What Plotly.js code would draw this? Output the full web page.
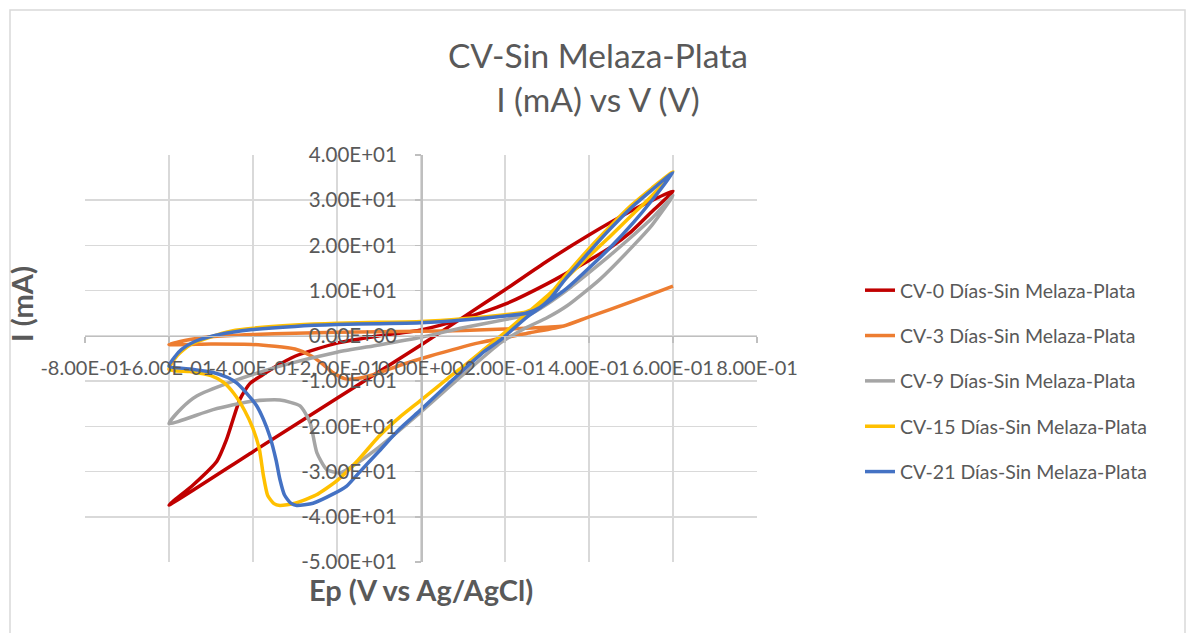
<!DOCTYPE html>
<html>
<head>
<meta charset="utf-8">
<script src="https://cdn.plot.ly/plotly-3.0.1.min.js"></script>
<style>
  html, body { margin: 0; padding: 0; background: #ffffff; }
  #chart { width: 1191px; height: 633px; }
</style>
</head>
<body>
<div id="chart"></div>
<script>
// Cyclic voltammetry loops: potential (V vs Ag/AgCl) and current (mA)
const seriesNames = [
  "CV-0 Días-Sin Melaza-Plata",
  "CV-3 Días-Sin Melaza-Plata",
  "CV-9 Días-Sin Melaza-Plata",
  "CV-15 Días-Sin Melaza-Plata",
  "CV-21 Días-Sin Melaza-Plata"
];
const seriesColors = ["#C00000", "#ED7D31", "#A5A5A5", "#FFC000", "#4472C4"];

// CV-0 días
const ep0 = [-0.6, -0.4, -0.2, 0.0, 0.1, 0.2, 0.3, 0.4, 0.5, 0.56, 0.6,
             0.55, 0.5, 0.45, 0.4, 0.3, 0.2, 0.1, 0.0, -0.1, -0.2, -0.3, -0.35, -0.38, -0.407, -0.431, -0.463, -0.486, -0.542, -0.6];
const i0  = [-37.4, -25.6, -13.8, -2.0, 4.1, 10.2, 16.5, 22.3, 27.6, 30.4, 32.0,
             27.5, 23.0, 19.5, 16.7, 11.5, 7.0, 3.8, 1.3, 0.0, -1.6, -4.5, -7.0, -8.8, -10.5, -14.0, -22.9, -27.7, -32.9, -37.4];

// CV-3 días
const ep3 = [-0.6, -0.55, -0.5, -0.4, -0.3, -0.2, -0.1, 0.0, 0.1, 0.2, 0.3, 0.34, 0.4, 0.5, 0.6,
             0.5, 0.4, 0.34, 0.26, 0.14, 0.02, -0.05, -0.1, -0.15, -0.18, -0.21, -0.24, -0.26, -0.3, -0.4, -0.5, -0.6];
const i3  = [-1.9, -0.8, -0.2, 0.3, 0.6, 0.8, 0.9, 1.0, 1.2, 1.5, 1.9, 2.2, 4.2, 7.5, 11.0,
             7.5, 4.2, 2.2, 0.7, -1.5, -4.5, -6.5, -8.2, -9.4, -9.5, -8.1, -5.8, -4.5, -2.9, -1.9, -1.8, -1.9];

// CV-9 días
const ep9 = [-0.6, -0.57, -0.534, -0.455, -0.336, -0.2, -0.1, 0.0, 0.1, 0.2, 0.26, 0.3, 0.35, 0.4, 0.45, 0.5, 0.55, 0.6,
             0.55, 0.505, 0.426, 0.347, 0.3, 0.25, 0.19, 0.1, 0.0, -0.1, -0.15, -0.193, -0.225, -0.248, -0.264, -0.288, -0.336, -0.4, -0.495, -0.6];
const i9  = [-19.4, -16.0, -13.3, -10.3, -6.7, -3.6, -2.0, -0.3, 1.8, 3.6, 4.8, 7.0, 10.3, 14.0, 17.8, 21.8, 26.0, 31.0,
             24.5, 19.9, 12.5, 6.6, 4.0, 1.8, -1.5, -8.6, -16.8, -24.6, -28.0, -30.3, -29.5, -25.8, -19.2, -15.5, -14.2, -14.4, -16.3, -19.4];

// CV-15 días
const ep15 = [-0.6, -0.58, -0.55, -0.5, -0.45, -0.4, -0.3, -0.2, -0.1, 0.0, 0.1, 0.2, 0.25, 0.28, 0.31, 0.339, 0.4, 0.45, 0.5, 0.55, 0.6,
              0.55, 0.5, 0.45, 0.4, 0.35, 0.3, 0.25, 0.2, 0.15, 0.1, 0.061, 0.0, -0.05, -0.1, -0.15, -0.2, -0.25, -0.3, -0.336, -0.35, -0.365, -0.375, -0.385, -0.4, -0.42, -0.445, -0.47, -0.5, -0.55, -0.6];
const i15  = [-7.4, -4.3, -2.0, -0.2, 1.1, 1.7, 2.4, 2.8, 3.0, 3.2, 3.8, 4.7, 5.3, 6.8, 9.5, 12.8, 19.3, 24.2, 28.8, 32.7, 36.3,
              31.0, 26.5, 22.0, 17.6, 13.2, 8.8, 4.8, 0.8, -3.0, -6.8, -9.6, -14.2, -17.9, -22.2, -27.5, -32.0, -35.2, -37.0, -37.5, -37.1, -35.3, -31.0, -25.0, -20.5, -16.5, -12.8, -10.3, -8.8, -7.9, -7.4];

// CV-21 días
const ep21 = [-0.6, -0.585, -0.57, -0.54, -0.5, -0.45, -0.4, -0.3, -0.2, -0.1, 0.0, 0.1, 0.2, 0.25, 0.283, 0.31, 0.339, 0.4, 0.45, 0.5, 0.55, 0.6,
              0.55, 0.505, 0.45, 0.4, 0.347, 0.3, 0.25, 0.188, 0.15, 0.077, 0.0, -0.05, -0.1, -0.15, -0.177, -0.21, -0.257, -0.296, -0.31, -0.325, -0.336, -0.345, -0.36, -0.375, -0.391, -0.415, -0.439, -0.46, -0.495, -0.55, -0.6];
const i21  = [-6.7, -4.5, -3.0, -1.3, -0.1, 0.8, 1.4, 2.1, 2.5, 2.7, 2.9, 3.5, 4.4, 5.0, 6.3, 8.5, 12.0, 18.5, 23.6, 28.3, 32.3, 36.1,
              30.0, 25.0, 19.5, 15.0, 10.5, 7.3, 4.0, -1.0, -3.5, -9.6, -16.3, -20.5, -25.5, -30.5, -33.2, -35.0, -37.0, -37.5, -37.0, -35.2, -31.7, -27.5, -22.2, -18.5, -15.5, -12.7, -10.4, -9.2, -8.1, -7.3, -6.7];

const potentials = [ep0, ep3, ep9, ep15, ep21];
const currents = [i0, i3, i9, i15, i21];

// Axis ticks in the spreadsheet's scientific notation
const xTickVals = [-0.8, -0.6, -0.4, -0.2, 0, 0.2, 0.4, 0.6, 0.8];
const xTickText = ["-8.00E-01", "-6.00E-01", "-4.00E-01", "-2.00E-01", "0.00E+00", "2.00E-01", "4.00E-01", "6.00E-01", "8.00E-01"];
const yTickVals = [-50, -40, -30, -20, -10, 0, 10, 20, 30, 40];
const yTickText = ["-5.00E+01", "-4.00E+01", "-3.00E+01", "-2.00E+01", "-1.00E+01", "0.00E+00", "1.00E+01", "2.00E+01", "3.00E+01", "4.00E+01"];

const chartTitle = "CV-Sin Melaza-Plata<br>I (mA) vs V (V)";
const xTitle = "Ep (V vs Ag/AgCl)";
const yTitle = "I (mA)";

const xRange = [-0.8, 0.8];
const yRange = [-50, 40];

const W = 1191, H = 633;
const M = { l: 85, r: 434, t: 155, b: 71 };
const plotW = W - M.l - M.r, plotH = H - M.t - M.b;
const px2paperX = px => (px - M.l) / plotW;
const px2paperY = py => (H - M.b - py) / plotH;

const textGray = "#595959";
const fontFam = "Lato, 'Open Sans', sans-serif";

const traces = seriesNames.map((name, k) => ({
  type: "scatter",
  mode: "lines",
  name: name,
  x: potentials[k],
  y: currents[k],
  line: { color: seriesColors[k], width: 3.5, shape: "spline", smoothing: 0.6 },
  legendgroup: "g" + k,
  hoverinfo: "skip"
}));

// axes cross at the origin, as in the spreadsheet chart
const zeroFracY = (0 - yRange[0]) / (yRange[1] - yRange[0]);
const zeroFracX = (0 - xRange[0]) / (xRange[1] - xRange[0]);

const layout = {
  width: W,
  height: H,
  margin: M,
  paper_bgcolor: "#ffffff",
  plot_bgcolor: "#ffffff",
  showlegend: true,
  title: {
    text: chartTitle,
    x: 0.502,
    xanchor: "center",
    y: 1 - 68 / H,
    yanchor: "middle",
    font: { family: fontFam, size: 33.5, color: textGray }
  },
  xaxis: {
    range: xRange,
    anchor: "free",
    position: zeroFracY,
    tickmode: "array",
    tickvals: xTickVals,
    ticktext: xTickText,
    tickangle: 0,
    ticks: "outside",
    ticklen: 6,
    tickcolor: "#bfbfbf",
    tickwidth: 1.5,
    ticklabelstandoff: 8,
    tickfont: { family: fontFam, size: 20, color: textGray },
    showline: true,
    linecolor: "#bfbfbf",
    linewidth: 1.5,
    showgrid: true,
    gridcolor: "#d9d9d9",
    gridwidth: 1.5,
    zeroline: false,
    fixedrange: true
  },
  yaxis: {
    range: yRange,
    anchor: "free",
    position: zeroFracX,
    tickmode: "array",
    tickvals: yTickVals,
    ticktext: yTickText,
    ticks: "outside",
    ticklen: 6,
    tickcolor: "#bfbfbf",
    tickwidth: 1.5,
    ticklabelstandoff: 14,
    tickfont: { family: fontFam, size: 20.5, color: textGray },
    showline: true,
    linecolor: "#bfbfbf",
    linewidth: 1.5,
    showgrid: true,
    gridcolor: "#d9d9d9",
    gridwidth: 1.5,
    zeroline: false,
    fixedrange: true
  },
  legend: {
    x: px2paperX(860),
    xanchor: "left",
    y: px2paperY(271),
    yanchor: "top",
    font: { family: fontFam, size: 19.5, color: textGray },
    tracegroupgap: 17,
    bgcolor: "rgba(0,0,0,0)"
  },
  annotations: [
    {
      text: "<b>" + xTitle + "</b>",
      xref: "paper", yref: "paper",
      x: px2paperX(421), y: px2paperY(589),
      xanchor: "center", yanchor: "middle",
      showarrow: false,
      font: { family: fontFam, size: 29, color: textGray }
    },
    {
      text: "<b>" + yTitle + "</b>",
      xref: "paper", yref: "paper",
      x: px2paperX(21), y: px2paperY(304),
      xanchor: "center", yanchor: "middle",
      textangle: -90,
      showarrow: false,
      font: { family: fontFam, size: 29, color: textGray }
    }
  ],
  shapes: [
    {
      type: "rect",
      xref: "paper", yref: "paper",
      x0: px2paperX(10), x1: px2paperX(1185),
      y0: px2paperY(640), y1: px2paperY(10),
      line: { color: "#d9d9d9", width: 1.5 },
      fillcolor: "rgba(0,0,0,0)",
      layer: "below"
    }
  ]
};

Plotly.newPlot("chart", traces, layout, { displayModeBar: false, staticPlot: true });
</script>
</body>
</html>
